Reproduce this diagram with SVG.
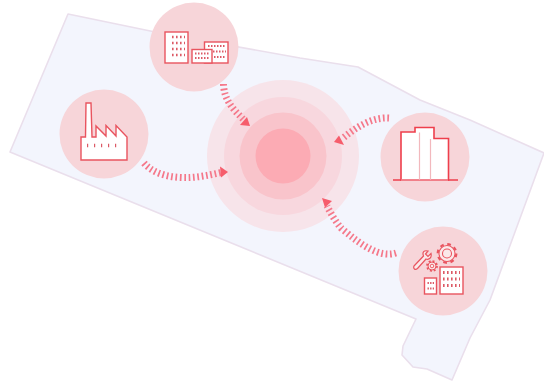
<svg xmlns="http://www.w3.org/2000/svg" width="544" height="383" viewBox="0 0 544 383">
<style>
.disc{fill:#f7d5d9}
.ic{fill:#fff;stroke:#e9545f;stroke-width:1.400;stroke-linejoin:miter}
.win{fill:none;stroke:#dc5a66;stroke-width:2.600;stroke-dasharray:1.600 2.400}
.flow{fill:none;stroke:#f5788a;stroke-width:7;stroke-dasharray:1.700 2.700}
.head{fill:#f65d6c}
.gear{fill:none;stroke:#e9545f}
</style>
<path id="district" d="M68 14L160 33L300 58L358 67L420 100L470 120L544 153L490 300L470 338L452 380L427 369L413 367L402 355L403 346L416 319L10 152Z" fill="#f3f5fd" stroke="#eadfec" stroke-width="1.600" stroke-linejoin="round"/>
<g id="center">
<circle cx="283" cy="156" r="76" fill="#f7e4ea"/>
<circle cx="283" cy="156" r="59" fill="#f8d7de"/>
<circle cx="283" cy="156" r="43.500" fill="#f9c4cb"/>
<circle cx="283" cy="156" r="27.500" fill="#fcabb4"/>
</g>
<g id="connectors">
<path class="flow" d="M144 163C155 176 175 178 190 177.500C200 177 210 175 221 172.500"/>
<polygon class="head" points="228,172 220,166.500 221,177.500"/>
<path class="flow" d="M223.500 84C224 100 233 109 243 119"/>
<polygon class="head" points="250,126 247,117 240,125"/>
<path class="flow" d="M389 118C372 117 356 127 342 139"/>
<polygon class="head" points="334,142 339,135.500 344,145"/>
<path class="flow" d="M396 253C380 258 362 246 341 228C336 222 331 214 327 206"/>
<polygon class="head" points="322,198 332,201 325,207.500"/>
</g>
<g id="node-offices">
<circle class="disc" cx="194" cy="47" r="44.500"/>
<rect class="ic" x="165" y="32" width="23" height="31"/>
<rect class="ic" x="204.500" y="42" width="23.500" height="21"/>
<rect class="ic" x="192" y="49.500" width="20" height="13.500"/>
<path class="win" d="M172 37H185M172 43H185M172 49H185M172 55H185"/>
<path class="win" d="M208 46H226M213 51.500H226M214 57H226" style="stroke-width:2;stroke-dasharray:1.500 1.500"/>
<path class="win" d="M195 53.500H210M195 58H210" style="stroke-width:2;stroke-dasharray:1.500 1.500"/>
</g>
<g id="node-factory">
<circle class="disc" cx="104" cy="134" r="44.500"/>
<path class="ic" d="M81 160V137H85.500L86 103H91L92 137H96V126L106 136V125.500L116 136V125.500L127 137V160Z"/>
<path class="win" d="M87 145.500H122" style="stroke-width:3.500;stroke-dasharray:1.200 5.800"/>
</g>
<g id="node-towers">
<circle class="disc" cx="425" cy="157" r="44.500"/>
<path class="ic" d="M401 180V132H415V127.500H434V138.500H448.500V180Z" style="stroke:#ee3f4c;stroke-width:1.600"/>
<path d="M419.500 132.500V180M430.500 139V180" stroke="#f2b8bd" stroke-width="1.200" fill="none"/>
<path d="M393 180H401M448 180H458" stroke="#ee3f4c" stroke-width="1.700" fill="none"/>
<path d="M401 180H448" stroke="#f29aa3" stroke-width="1.200" fill="none"/>
</g>
<g id="node-maintenance">
<circle class="disc" cx="443" cy="271" r="44.500"/>
<rect class="ic" x="440" y="267" width="23" height="27"/>
<rect class="ic" x="424.500" y="278" width="12" height="16"/>
<path class="win" d="M443 272.500H460M443 279H460M443 285.500H460" style="stroke-width:3"/>
<path class="win" d="M427.500 283H434M427.500 288.500H434" style="stroke-width:2;stroke-dasharray:1.400 1.200"/>
<circle class="gear" cx="447" cy="253.500" r="8" stroke-width="1.100" style="fill:#fbe9ea"/>
<circle class="gear" cx="447" cy="253.500" r="9.300" stroke-width="2.200" stroke-dasharray="3.650 3.650"/>
<circle class="gear" cx="447" cy="253.500" r="4.500" stroke-width="1.100"/>
<circle class="gear" cx="432" cy="266" r="4" stroke-width="1" style="fill:#fbe9ea"/>
<circle class="gear" cx="432" cy="266" r="5" stroke-width="1.800" stroke-dasharray="1.960 1.960"/>
<circle class="gear" cx="432" cy="266" r="1.800" stroke-width="0.900"/>
<path d="M414 266L423.500 256C422 252 424 250 428 251L425.500 254L428 256.500L431 253.500C432 258 429 260 426 259L417.500 268.500C415 270.500 413 268.500 414 266Z" fill="#fbe9ea" stroke="#e9545f" stroke-width="1.200"/>
</g>
</svg>
